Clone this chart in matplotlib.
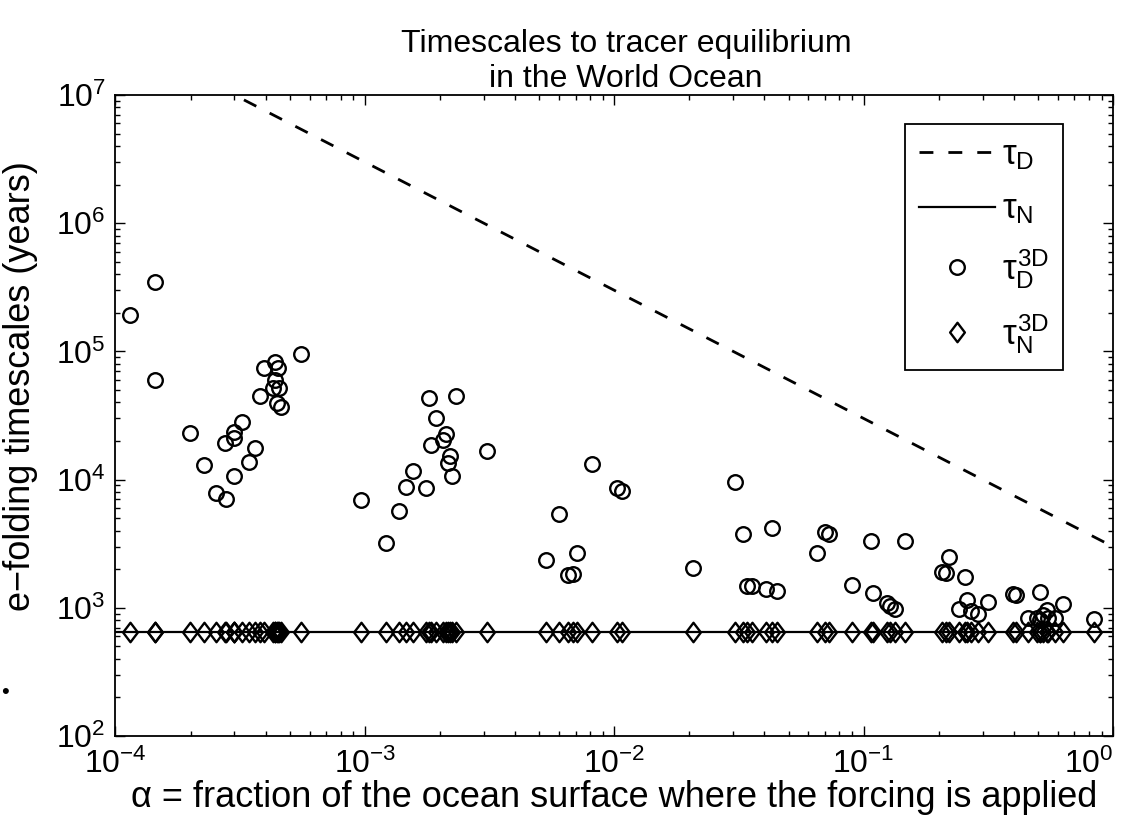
import matplotlib

matplotlib.use("Agg")
import matplotlib.pyplot as plt
from matplotlib.path import Path
from matplotlib.ticker import FixedLocator

plt.rcParams["font.family"] = ["Liberation Sans", "DejaVu Sans"]
plt.rcParams["mathtext.fontset"] = "custom"
plt.rcParams["mathtext.rm"] = "Liberation Sans"
plt.rcParams["mathtext.it"] = "Liberation Sans"
plt.rcParams["mathtext.bf"] = "Liberation Sans:bold"

# fraction of surface where forcing applied, one per 3D experiment
alpha = [
    1.14e-4, 1.44e-4, 1.44e-4, 1.99e-4, 2.26e-4, 2.52e-4, 2.77e-4, 2.75e-4,
    2.99e-4, 2.99e-4, 3.22e-4, 2.99e-4, 3.43e-4, 3.63e-4, 3.80e-4, 3.95e-4,
    4.36e-4, 4.50e-4, 4.36e-4, 4.29e-4, 4.54e-4, 4.43e-4, 4.60e-4, 5.54e-4,
    9.64e-4, 1.80e-3, 2.33e-3, 1.93e-3, 2.11e-3, 2.06e-3, 1.84e-3, 2.19e-3,
    2.16e-3, 2.23e-3, 3.10e-3, 1.56e-3, 1.46e-3, 1.76e-3, 1.22e-3, 1.37e-3,
    5.32e-3, 6.00e-3, 8.18e-3, 7.06e-3, 6.54e-3, 6.81e-3, 1.03e-2, 1.07e-2,
    2.06e-2, 3.05e-2, 3.29e-2, 4.31e-2, 3.40e-2, 3.56e-2, 4.06e-2, 4.51e-2,
    6.52e-2, 7.00e-2, 7.28e-2, 0.107, 0.147, 0.090, 0.109, 0.124,
    0.127, 0.134, 0.220, 0.206, 0.214, 0.255, 0.259, 0.242,
    0.269, 0.287, 0.316, 0.398, 0.408, 0.509, 0.628, 0.457,
    0.494, 0.525, 0.542, 0.550, 0.585, 0.509, 0.841,
]

# diffusive timescale from the 3D runs (years)
tau_D_3D = [
    1.94e5, 3.50e5, 6.0e4, 2.30e4, 1.31e4, 7.9e3, 7.1e3, 1.94e4,
    2.10e4, 2.36e4, 2.80e4, 1.07e4, 1.37e4, 1.75e4, 4.48e4, 7.36e4,
    8.29e4, 7.49e4, 5.97e4, 5.14e4, 5.14e4, 3.93e4, 3.70e4, 9.51e4,
    6.95e3, 4.30e4, 4.51e4, 3.04e4, 2.25e4, 2.04e4, 1.86e4, 1.53e4,
    1.36e4, 1.07e4, 1.68e4, 1.17e4, 8.8e3, 8.6e3, 3.2e3, 5.7e3,
    2.37e3, 5.4e3, 1.33e4, 2.67e3, 1.81e3, 1.85e3, 8.66e3, 8.21e3,
    2.05e3, 9.6e3, 3.76e3, 4.23e3, 1.49e3, 1.49e3, 1.40e3, 1.36e3,
    2.70e3, 3.87e3, 3.76e3, 3.35e3, 3.35e3, 1.50e3, 1.31e3, 1.09e3,
    1.03e3, 986, 2.49e3, 1.90e3, 1.87e3, 1.74e3, 1.16e3, 986,
    951, 897, 1.11e3, 1.28e3, 1.27e3, 1.32e3, 1.08e3, 834,
    834, 885, 957, 834, 834, 809, 824,
]

# non-diffusive timescale from the 3D runs (years)
tau_N_3D = [
    645, 645, 645, 645, 645, 645, 645, 645, 645, 645, 645, 645, 645, 645, 645,
    645, 645, 645, 645, 645, 645, 645, 645, 645, 645, 645, 645, 645, 645, 645,
    645, 645, 645, 645, 645, 645, 645, 645, 645, 645, 645, 645, 645, 645, 645,
    645, 645, 645, 645, 645, 645, 645, 645, 645, 645, 645, 645, 645, 645, 645,
    645, 645, 645, 645, 645, 645, 645, 645, 645, 645, 645, 645, 645, 645, 645,
    645, 645, 645, 645, 645, 645, 645, 645, 645, 645, 645, 645,
]

# theory lines, end points
alpha_line = [1e-4, 1.0]
tau_D_line = [3.0e7, 3.0e3]
tau_N_line = [645, 645]

x_decades = [1e-4, 1e-3, 1e-2, 1e-1, 1e0]

# matlab style diamond, a bit taller than wide
diamond = Path([(0, 1), (0.76, 0), (0, -1), (-0.76, 0), (0, 1)], closed=True)

fig = plt.figure(figsize=(11.31, 8.22), dpi=100)
ax = fig.add_axes([0.1021, 0.1046, 0.8820, 0.7798])

ax.plot(alpha_line, tau_D_line, color="k", lw=2.0, dashes=(5, 5.4), label=r"$\tau_D$")
ax.plot(alpha_line, tau_N_line, color="k", lw=1.6, label=r"$\tau_N$")
ax.plot(alpha, tau_D_3D, ls="none", marker="o", ms=10.5, mew=1.7, mfc="none",
        mec="k", label=r"$\tau_D^{3D}$")
ax.plot(alpha, tau_N_3D, ls="none", marker=diamond, ms=14, mew=1.7, mfc="none",
        mec="k", label=r"$\tau_N^{3D}$")

ax.set_xscale("log")
ax.set_yscale("log")
ax.set_xlim(1e-4, 1)
ax.set_ylim(1e2, 1e7)
ax.xaxis.set_major_locator(FixedLocator(x_decades))

ax.tick_params(which="both", direction="in", top=True, right=True, labelsize=23)
ax.tick_params(axis="x", which="major", pad=9)
ax.tick_params(axis="y", which="major", pad=7)
ax.tick_params(which="major", length=7, width=1)
ax.tick_params(which="minor", length=3.6, width=1)
for sp in ax.spines.values():
    sp.set_linewidth(1.3)

ax.set_title("Timescales to tracer equilibrium\nin the World Ocean", fontsize=23,
             x=0.512, pad=6)
ax.set_xlabel("\u03b1 = fraction of the ocean surface where the forcing is applied",
              fontsize=26, labelpad=0)
ax.set_ylabel("e\u2212folding timescales (years)", fontsize=26)
ax.yaxis.set_label_coords(-0.078, 0.546)

leg = ax.legend(loc="lower right", bbox_to_anchor=(0.9499, 0.571), fontsize=25,
                fancybox=False, framealpha=1, edgecolor="k", handlelength=2.2,
                handletextpad=0.2, borderpad=0.4, labelspacing=0.6,
                borderaxespad=0)
leg.get_frame().set_linewidth(1.3)

# last x tick label sits left of its tick like in the original
ax.get_xticklabels()[-1].set_horizontalalignment("right")

# stray bullet left of the axes in the original
fig.text(0.004, 0.157, "\u2022", fontsize=16, ha="center", va="center")

fig.savefig("out.png", dpi=100)
